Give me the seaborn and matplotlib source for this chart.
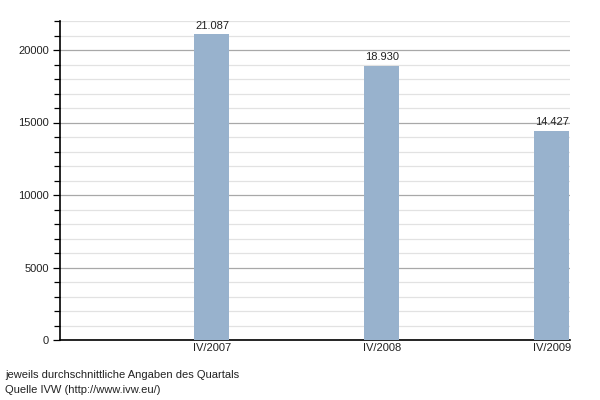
import matplotlib
matplotlib.use("Agg")
import matplotlib.pyplot as plt
import seaborn as sns
import pandas as pd
from matplotlib.ticker import MultipleLocator

categories = ["IV/2007", "IV/2008", "IV/2009"]
values = [21087, 18930, 14427]
value_labels = ["21.087", "18.930", "14.427"]
notes = ["jeweils durchschnittliche Angaben des Quartals", "Quelle IVW (http://www.ivw.eu/)"]

sns.set_style("white")
plt.rcParams['font.family'] = ['Liberation Sans', 'DejaVu Sans']

df = pd.DataFrame({"cat": categories, "val": values})
fig = plt.figure(figsize=(6, 4), dpi=100)
ax = fig.add_axes([60/600, 60/400, 510/600, 319/400])

sns.barplot(data=df, x="cat", y="val", color="#98b2cd", saturation=1, width=0.206,
            linewidth=0, edgecolor="none", ax=ax, zorder=3)

ax.set_xlim(-0.894, 2.106)
ax.set_ylim(0, 22000)
ax.yaxis.set_major_locator(MultipleLocator(5000))
ax.yaxis.set_minor_locator(MultipleLocator(1000))
ax.grid(which="major", axis="y", color="#a8a8a8", lw=0.9, zorder=0)
ax.grid(which="minor", axis="y", color="#e2e2e2", lw=0.9, zorder=0)
ax.set_axisbelow(True)
for s in ["top", "right"]:
    ax.spines[s].set_visible(False)
for s in ["left", "bottom"]:
    ax.spines[s].set_color("black")
    ax.spines[s].set_linewidth(1.2)
ax.tick_params(axis="y", which="major", length=5, width=0.9, color="black", labelsize=8, labelcolor="#222222", left=True, pad=3)
ax.tick_params(axis="y", which="minor", length=4, width=0.9, color="black", left=True)
ax.tick_params(axis="x", length=0, labelsize=8, labelcolor="#222222", pad=2)
ax.set_xlabel("")
ax.set_ylabel("")

for i, (v, lab) in enumerate(zip(values, value_labels)):
    ax.text(i, v + 250, lab, ha="center", va="bottom", fontsize=8, color="#222222")

fig.text(5/600, 1 - 375/400, notes[0], fontsize=8, va="center", ha="left", color="#222222")
fig.text(5/600, 1 - 390/400, notes[1], fontsize=8, va="center", ha="left", color="#222222")

fig.savefig("out.png", dpi=100)
